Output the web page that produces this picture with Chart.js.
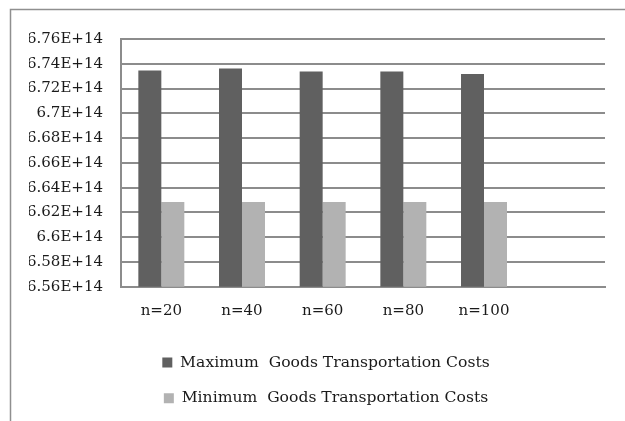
<!DOCTYPE html>
<html>
<head>
<meta charset="utf-8">
<script src="https://cdn.jsdelivr.net/npm/chart.js@4/dist/chart.umd.min.js"></script>
<style>
  html, body { margin: 0; padding: 0; background: #ffffff; }
  #wrap { position: relative; width: 625px; height: 421px; }
  canvas { display: block; }
</style>
</head>
<body>
<div id="wrap"><canvas id="chart" width="625" height="421"></canvas></div>
<script>
// Problem sizes (last slot is left empty on purpose)
const categories = ['n=20', 'n=40', 'n=60', 'n=80', 'n=100', ''];

// Transportation costs per problem size
const maxCosts = [6.7346e14, 6.7362e14, 6.7338e14, 6.7338e14, 6.7317e14];
const minCosts = [6.6285e14, 6.6285e14, 6.6285e14, 6.6285e14, 6.6285e14];

// Y axis tick values and their labels
const yTickValues = [6.56e14, 6.58e14, 6.60e14, 6.62e14, 6.64e14, 6.66e14, 6.68e14, 6.70e14, 6.72e14, 6.74e14, 6.76e14];
const yTickLabels = ['6.56E+14', '6.58E+14', '6.6E+14', '6.62E+14', '6.64E+14', '6.66E+14', '6.68E+14', '6.7E+14', '6.72E+14', '6.74E+14', '6.76E+14'];

const seriesNames = ['Maximum  Goods Transportation Costs', 'Minimum  Goods Transportation Costs'];

const FONT = 'DejaVu Serif';
const GRID = '#8c8c8c';
const TEXT = '#1a1a1a';

// Thin frame around the whole figure
const framePlugin = {
  id: 'frame',
  beforeDraw(chart) {
    const ctx = chart.ctx;
    ctx.save();
    ctx.strokeStyle = '#8f8f8f';
    ctx.lineWidth = 1.5;
    ctx.beginPath();
    ctx.moveTo(10.5, chart.height + 5);
    ctx.lineTo(10.5, 9.5);
    ctx.lineTo(chart.width + 5, 9.5);
    ctx.stroke();
    ctx.restore();
  }
};

// Centre the legend under the plot rather than under the whole canvas
const legendShiftPlugin = {
  id: 'legendShift',
  afterLayout(chart) {
    if (chart.legend) {
      chart.legend.left = chart.chartArea.left - 74;
    }
  }
};

new Chart(document.getElementById('chart'), {
  type: 'bar',
  data: {
    labels: categories,
    datasets: [
      {
        label: seriesNames[0],
        data: maxCosts,
        backgroundColor: '#606060',
        borderWidth: 0
      },
      {
        label: seriesNames[1],
        data: minCosts,
        backgroundColor: '#b2b2b2',
        borderWidth: 0
      }
    ]
  },
  options: {
    responsive: false,
    animation: false,
    devicePixelRatio: 1,
    layout: { padding: { top: 39, left: 29, right: 20, bottom: 5 } },
    datasets: {
      bar: { categoryPercentage: 0.57, barPercentage: 1.0 }
    },
    scales: {
      x: {
        grid: { display: false, drawTicks: false },
        border: { display: true, color: GRID, width: 2 },
        ticks: {
          color: TEXT,
          font: { family: FONT, size: 15 },
          padding: 15,
          maxRotation: 0,
          autoSkip: false
        },
        afterFit(scale) { scale.height = 48; }
      },
      y: {
        min: yTickValues[0],
        max: yTickValues[yTickValues.length - 1],
        afterBuildTicks(scale) {
          scale.ticks = yTickValues.map(v => ({ value: v }));
        },
        afterFit(scale) { scale.width = 92; },
        grid: { color: GRID, lineWidth: 2, drawTicks: false },
        border: { display: true, color: GRID, width: 2 },
        ticks: {
          color: TEXT,
          font: { family: FONT, size: 15 },
          padding: 18,
          callback(value) {
            const i = yTickValues.indexOf(value);
            return i >= 0 ? yTickLabels[i] : '';
          }
        }
      }
    },
    plugins: {
      legend: {
        position: 'bottom',
        align: 'center',
        labels: {
          color: TEXT,
          font: { family: FONT, size: 15.6 },
          boxWidth: 10,
          boxHeight: 10,
          padding: 20
        }
      },
      tooltip: { enabled: false }
    }
  },
  plugins: [framePlugin, legendShiftPlugin]
});
</script>
</body>
</html>
